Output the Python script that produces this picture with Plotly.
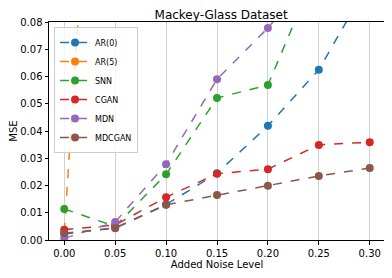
import plotly.graph_objects as go

noise = [0.00, 0.05, 0.10, 0.15, 0.20, 0.25, 0.30]
series_names = ["AR(0)", "AR(5)", "SNN", "CGAN", "MDN", "MDCGAN"]
ar0 = [0.0022, 0.0045, 0.0130, 0.0245, 0.0419, 0.0625, 0.0950]
ar5 = [0.0030, 0.2900, None, None, None, None, None]
snn = [0.0114, 0.0050, 0.0241, 0.0521, 0.0569, 0.1010, None]
cgan = [0.0038, 0.0055, 0.0157, 0.0243, 0.0260, 0.0349, 0.0359]
mdn = [0.0006, 0.0066, 0.0278, 0.0590, 0.0778, 0.1000, None]
mdcgan = [0.0025, 0.0043, 0.0129, 0.0165, 0.0199, 0.0235, 0.0264]
colors = ["#1f77b4", "#ff7f0e", "#2ca02c", "#d62728", "#9467bd", "#8c564b"]
all_series = [ar0, ar5, snn, cgan, mdn, mdcgan]

fig = go.Figure()
for name, vals, col in zip(series_names, all_series, colors):
    fig.add_trace(go.Scatter(
        x=noise, y=vals, name=name, mode="lines+markers",
        line=dict(color=col, width=1.5, dash="dash"),
        marker=dict(color=col, size=8),
        connectgaps=False, cliponaxis=True,
    ))

# page body has an 8px default margin, so the figure is offset by 8px
fig.update_layout(
    width=384, height=270,
    margin=dict(l=41, r=7, t=14, b=38),
    paper_bgcolor="white", plot_bgcolor="white",
    font=dict(family="DejaVu Sans", size=10, color="black"),
    title=dict(text="Mackey-Glass Dataset", x=0.555, xanchor="center",
               y=0.975, yanchor="middle", font=dict(size=12)),
    showlegend=True,
    legend=dict(x=0.015, y=0.977, xanchor="left", yanchor="top",
                bgcolor="rgba(255,255,255,0.8)", bordercolor="#cccccc",
                borderwidth=1, font=dict(size=8), tracegroupgap=0,
                itemwidth=30),
    xaxis=dict(range=[-0.015, 0.315], tickvals=noise,
               ticktext=["0.00", "0.05", "0.10", "0.15", "0.20", "0.25", "0.30"],
               showgrid=True, gridcolor="#d0d0d0", gridwidth=1,
               showline=True, linecolor="black", linewidth=1, mirror=True,
               ticks="outside", ticklen=3.5, tickcolor="black",
               zeroline=False, automargin=False,
               title=dict(text="Added Noise Level", font=dict(size=10), standoff=2)),
    yaxis=dict(range=[0, 0.08], dtick=0.01, tickformat=".2f",
               showgrid=False,
               showline=True, linecolor="black", linewidth=1, mirror=True,
               ticks="outside", ticklen=3.5, tickcolor="black",
               zeroline=False, automargin=False,
               title=dict(text="MSE", font=dict(size=10), standoff=4)),
)

fig.write_html("out.html")
